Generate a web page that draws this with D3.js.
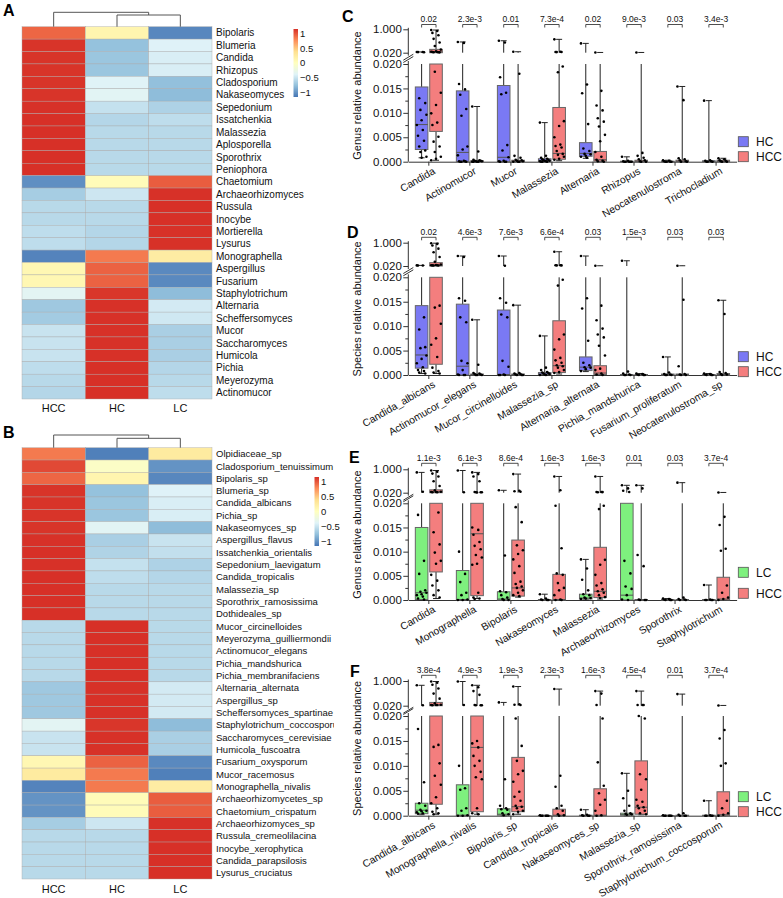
<!DOCTYPE html>
<html><head><meta charset="utf-8">
<script src="https://cdn.jsdelivr.net/npm/d3@7"></script>
<style>
body{margin:0;background:#fff}
svg{display:block;font-family:"Liberation Sans",Arial,sans-serif}
</style>
</head><body>
<svg id="chart" width="783" height="898"></svg>
<script>
// ---------------- DATA ----------------
const heatCols = ["HCC","HC","LC"];
const rowsA = ["Bipolaris","Blumeria","Candida","Rhizopus","Cladosporium","Nakaseomyces","Sepedonium","Issatchenkia","Malassezia","Aplosporella","Sporothrix","Peniophora","Chaetomium","Archaeorhizomyces","Russula","Inocybe","Mortierella","Lysurus","Monographella","Aspergillus","Fusarium","Staphylotrichum","Alternaria","Scheffersomyces","Mucor","Saccharomyces","Humicola","Pichia","Meyerozyma","Actinomucor"];
const hccA = [0.93,1.14,1.14,1.14,1.14,1.14,1.15,1.155,1.155,1.155,1.155,1.155,-1.02,-0.67,-0.58,-0.58,-0.55,-0.55,-1.08,0.10,0.10,-0.35,-0.70,-0.68,-0.50,-0.50,-0.50,-0.55,-0.58,-0.60];
const hcA  = [0.13,-0.75,-0.72,-0.72,-0.38,-0.36,-0.52,-0.60,-0.58,-0.58,-0.58,-0.58,0.05,-0.48,-0.58,-0.58,-0.60,-0.60,0.85,0.95,0.95,1.13,1.15,1.15,1.15,1.15,1.15,1.155,1.155,1.155];
const lcA  = [-1.06,-0.39,-0.42,-0.42,-0.76,-0.78,-0.63,-0.55,-0.58,-0.58,-0.58,-0.58,0.97,1.15,1.155,1.155,1.15,1.15,0.23,-1.05,-1.05,-0.78,-0.45,-0.47,-0.65,-0.65,-0.65,-0.60,-0.58,-0.55];

const rowsB = ["Olpidiaceae_sp","Cladosporium_tenuissimum","Bipolaris_sp","Blumeria_sp","Candida_albicans","Pichia_sp","Nakaseomyces_sp","Aspergillus_flavus","Issatchenkia_orientalis","Sepedonium_laevigatum","Candida_tropicalis","Malassezia_sp","Sporothrix_ramosissima","Dothideales_sp","Mucor_circinelloides","Meyerozyma_guilliermondii","Actinomucor_elegans","Pichia_mandshurica","Pichia_membranifaciens","Alternaria_alternata","Aspergillus_sp","Scheffersomyces_spartinae","Staphylotrichum_coccosporum","Saccharomyces_cerevisiae","Humicola_fuscoatra","Fusarium_oxysporum","Mucor_racemosus","Monographella_nivalis","Archaeorhizomycetes_sp","Chaetomium_crispatum","Archaeorhizomyces_sp","Russula_cremeolilacina","Inocybe_xerophytica","Candida_parapsilosis","Lysurus_cruciatus"];
const hccB = [0.85,1.05,0.93,1.14,1.14,1.14,1.14,1.15,1.155,1.15,1.155,1.155,1.155,1.155,-0.58,-0.58,-0.58,-0.58,-0.58,-0.70,-0.70,-0.70,-0.35,-0.50,-0.50,0.10,0.25,-1.08,-1.0,-1.0,-0.67,-0.58,-0.58,-0.58,-0.58];
const hcB  = [-1.10,-0.05,0.13,-0.75,-0.72,-0.72,-0.36,-0.65,-0.62,-0.52,-0.55,-0.58,-0.58,-0.58,1.155,1.155,1.155,1.155,1.155,1.15,1.15,1.15,1.13,1.15,1.15,0.95,0.85,0.85,0.05,0.05,-0.48,-0.58,-0.58,-0.58,-0.58];
const lcB  = [0.25,-1.0,-1.06,-0.39,-0.42,-0.42,-0.78,-0.50,-0.53,-0.63,-0.60,-0.58,-0.58,-0.58,-0.58,-0.58,-0.58,-0.58,-0.58,-0.45,-0.45,-0.45,-0.78,-0.65,-0.65,-1.05,-1.10,0.23,0.97,0.97,1.15,1.155,1.155,1.155,1.155];
const legendTicks = [1,0.5,0,-0.5,-1];

// Panel C (genus, HC vs HCC)  box = [min,q1,median,q3,max]
const cCats = ["Candida","Actinomucor","Mucor","Malassezia","Alternaria","Rhizopus","Neocatenulostroma","Trichocladium"];
const cP = ["0.02","2.3e-3","0.01","7.3e-4","0.02","9.0e-3","0.03","3.4e-3"];
const cHCbox = [[0.0008,0.0025,0.0076,0.0153,0.05],[0,0,0.0019,0.0145,0.47],[0,0,0.0009,0.0156,0.52],[0,0.0001,0.0002,0.0006,0.0080],[0.0007,0.0011,0.0017,0.0039,0.41],[0,0,0,0.0001,0.0010],[0,0,0,0.0001,0.0003],[0,0,0,0.0002,0.0125]];
const cHCCbox = [[0.0003,0.0062,0.06,0.16,0.97],[0,0,0.0001,0.0002,0.0113],[0,0,0.0001,0.0003,0.06],[0.0002,0.0005,0.0017,0.0111,0.58],[0,0.0001,0.0004,0.0021,0.03],[0,0,0.0001,0.0003,0.03],[0,0,0.0001,0.0003,0.0154],[0,0,0.0001,0.0003,0.0007]];
const cHCpts = [[0.05,0.05,0.045,0.04,0.013,0.012,0.0106,0.0096,0.0085,0.0075,0.0065,0.0053,0.0043,0.0031,0.0023,0.0020,0.0010,0.0008],[0.47,0.43,0.0159,0.0148,0.0137,0.0108,0.0094,0.0031,0.0025,0.0013,0.0002,0.0001,0.0001,0,0,0],[0.52,0.45,0.0173,0.0141,0.0138,0.0034,0.0023,0.0009,0.0002,0.0001,0,0,0],[0.008,0.0012,0.0008,0.0006,0.0005,0.0004,0.0003,0.0002,0.0002,0.0001,0.0001,0,0,0],[0.41,0.0158,0.0140,0.0077,0.0027,0.0022,0.0016,0.0015,0.0012,0.0010,0.0008],[0.001,0.0002,0.0001,0,0,0,0,0],[0.0003,0.0002,0.0001,0,0,0,0],[0.0125,0.0003,0.0002,0.0001,0,0,0]];
const cHCCpts = [[0.97,0.93,0.85,0.75,0.6,0.45,0.3,0.15,0.08,0.06,0.05,0.05,0.04,0.04,0.035,0.0184,0.0141,0.0116,0.0099,0.0080,0.0075,0.0051,0.0041,0.0031,0.0020,0.0010,0.0006,0.0003],[0.0113,0.0021,0.0004,0.0003,0.0002,0.0002,0.0001,0.0001,0,0,0,0],[0.06,0.018,0.0012,0.0008,0.0004,0.0003,0.0002,0.0001,0,0,0],[0.58,0.06,0.05,0.05,0.045,0.0195,0.0183,0.0083,0.0073,0.0050,0.0035,0.0032,0.0029,0.0022,0.0016,0.0014,0.0010,0.0006,0.0004],[0.03,0.0145,0.0115,0.0105,0.0089,0.0082,0.0072,0.0055,0.0042,0.0020,0.0010,0.0004,0.0002,0.0001,0],[0.03,0.0018,0.0012,0.0008,0.0005,0.0003,0.0001,0,0],[0.0154,0.0126,0.0007,0.0005,0.0003,0.0001,0,0],[0.0007,0.0005,0.0003,0.0002,0.0001,0,0]];

// Panel D (species, HC vs HCC)
const dCats = ["Candida_albicans","Actinomucor_elegans","Mucor_circinelloides","Malassezia_sp","Alternaria_alternata","Pichia_mandshurica","Fusarium_proliferatum","Neocatenulostroma_sp"];
const dP = ["0.02","4.6e-3","7.6e-3","6.6e-4","0.03","1.5e-3","0.03","0.03"];
const dHCbox = [[0.0003,0.0014,0.0041,0.0142,0.045],[0,0,0.0018,0.0145,0.44],[0,0,0.0001,0.0133,0.44],[0,0.0001,0.0002,0.0005,0.0080],[0.0007,0.0009,0.0016,0.0037,0.44],[0,0,0,0.0001,0.24],[0,0,0,0.0002,0.0037],[0,0,0,0.0001,0.0003]];
const dHCCbox = [[0.0003,0.0022,0.05,0.16,0.98],[0,0,0.0001,0.0002,0.0113],[0,0,0.0001,0.0002,0.0143],[0.0002,0.0005,0.0019,0.0111,0.62],[0,0.0001,0.0004,0.0019,0.03],[0,0,0,0.0001,0.0003],[0,0,0.0001,0.0002,0.03],[0,0,0.0001,0.0003,0.0153]];
const dHCpts = [[0.045,0.04,0.04,0.0118,0.0093,0.0057,0.0055,0.0040,0.0033,0.0024,0.0016,0.0010,0.0008,0.0005,0.0003],[0.44,0.40,0.0157,0.0152,0.0118,0.0108,0.0029,0.0024,0.0010,0.0001,0,0,0],[0.44,0.03,0.0157,0.0148,0.0124,0.0118,0.0029,0.0017,0.0001,0,0,0],[0.008,0.0015,0.0010,0.0006,0.0005,0.0004,0.0003,0.0002,0.0001,0,0],[0.44,0.0157,0.0136,0.0070,0.0025,0.0020,0.0016,0.0015,0.0012,0.0008],[0.24,0.0007,0.0003,0.0001,0,0,0],[0.0037,0.0005,0.0002,0.0001,0,0,0],[0.0003,0.0002,0.0001,0,0,0]];
const dHCCpts = [[0.98,0.95,0.88,0.75,0.6,0.4,0.2,0.08,0.06,0.05,0.05,0.045,0.04,0.04,0.0142,0.0138,0.0105,0.0075,0.0062,0.0037,0.0015,0.0008,0.0005,0.0003],[0.0113,0.0021,0.0004,0.0003,0.0002,0.0001,0,0,0],[0.0143,0.0004,0.0003,0.0002,0.0001,0,0,0],[0.62,0.05,0.05,0.045,0.045,0.0195,0.0183,0.0083,0.0073,0.0052,0.0035,0.0030,0.0025,0.0020,0.0018,0.0015,0.0010,0.0006,0.0004],[0.03,0.0142,0.0112,0.0095,0.0083,0.0077,0.0060,0.0040,0.0013,0.0010,0.0003,0.0001,0],[0.0003,0.0002,0.0001,0,0,0],[0.03,0.0154,0.0018,0.0002,0.0001,0,0],[0.0153,0.0125,0.0006,0.0004,0.0002,0.0001,0]];

// Panel E (genus, LC vs HCC)
const eCats = ["Candida","Monographella","Bipolaris","Nakaseomyces","Malassezia","Archaeorhizomyces","Sporothrix","Staphylotrichum"];
const eP = ["1.1e-3","6.1e-3","8.6e-4","1.6e-3","1.6e-3","0.01","0.03","3.7e-4"];
const eLCbox = [[0,0.0001,0.0015,0.0150,0.87],[0,0,0.0001,0.0061,0.95],[0,0,0.0002,0.0017,0.12],[0,0,0,0.0001,0.0012],[0,0.0002,0.0004,0.0012,0.0084],[0,0,0.0010,0.02,0.33],[0,0,0,0.0001,0.0003],[0,0,0,0.0001,0.0031]];
const eHCCbox = [[0.0003,0.0058,0.06,0.14,0.95],[0.0003,0.0009,0.0137,0.02,0.87],[0.0006,0.0008,0.0025,0.0124,0.8],[0,0,0.0001,0.0053,0.7],[0.0002,0.0005,0.0018,0.0109,0.7],[0,0,0,0.0001,0.33],[0,0,0,0.0001,0.44],[0,0,0.0002,0.0047,0.03]];
const eLCpts = [[0.87,0.06,0.0176,0.0081,0.0054,0.0020,0.0017,0.0015,0.0012,0.0010,0.0007,0.0003,0.0001],[0.95,0.04,0.0100,0.0054,0.0037,0.0015,0.0010,0.0001,0,0],[0.12,0.0092,0.0018,0.0016,0.0010,0.0005,0.0002,0,0],[0.0012,0.0003,0.0001,0,0,0],[0.0084,0.0065,0.0042,0.0020,0.0012,0.0010,0.0005,0.0004,0.0003,0.0002],[0.33,0.2,0.1,0.05,0.0081,0.0055,0.0028,0.0023,0.0010,0.0001,0],[0.0003,0.0002,0.0001,0,0,0],[0.0031,0.0001,0,0,0,0]];
const eHCCpts = [[0.95,0.9,0.82,0.7,0.5,0.3,0.12,0.06,0.05,0.05,0.04,0.04,0.0181,0.0140,0.0115,0.0098,0.0081,0.0075,0.0052,0.0040,0.0030,0.0020,0.0010,0.0005],[0.87,0.8,0.7,0.5,0.05,0.04,0.04,0.04,0.03,0.0150,0.0145,0.0135,0.0120,0.0112,0.0105,0.0093,0.0088,0.0075,0.0073,0.0015,0.0005,0.0003,0.0002],[0.8,0.1,0.08,0.06,0.0192,0.0161,0.0113,0.0103,0.0095,0.0084,0.0070,0.0056,0.0038,0.0033,0.0028,0.0025,0.0020,0.0015,0.0010,0.0008],[0.7,0.12,0.0195,0.0107,0.0055,0.0052,0.0035,0.0025,0.0020,0.0010,0.0001,0,0],[0.7,0.05,0.05,0.045,0.04,0.0195,0.0188,0.0083,0.0073,0.0052,0.0035,0.0030,0.0022,0.0018,0.0015,0.0010,0.0006,0.0004],[0.33,0.2,0.0093,0.0070,0.0001,0,0,0],[0.44,0.0005,0.0002,0.0001,0,0],[0.03,0.0172,0.0155,0.0106,0.0102,0.0030,0.0015,0.0005,0.0002,0]];

// Panel F (species, LC vs HCC)
const fCats = ["Candida_albicans","Monographella_nivalis","Bipolaris_sp","Candida_tropicalis","Nakaseomyces_sp","Malassezia_sp","Sporothrix_ramosissima","Staphylotrichum_coccosporum"];
const fP = ["3.8e-4","4.9e-3","1.9e-3","2.3e-3","1.6e-3","4.5e-4","0.01","3.7e-4"];
const fLCbox = [[0.0002,0.0004,0.0011,0.0025,0.83],[0,0,0.0001,0.0062,0.98],[0,0.0001,0.0003,0.0014,0.15],[0,0,0,0,0.0001],[0,0,0,0.0001,0.0012],[0,0.0001,0.0002,0.0005,0.0085],[0,0,0,0,0.0001],[0,0,0,0.0001,0.0030]];
const fHCCbox = [[0.0003,0.0023,0.05,0.15,0.98],[0.0003,0.0008,0.0137,0.02,0.83],[0.0003,0.0008,0.0018,0.0117,0.78],[0,0,0.0001,0.0013,0.68],[0,0,0.0001,0.0054,0.6],[0.0002,0.0003,0.0017,0.0110,0.6],[0,0,0,0.0001,0.48],[0,0,0.0002,0.0048,0.03]];
const fLCpts = [[0.83,0.04,0.0174,0.0067,0.0025,0.0020,0.0012,0.0010,0.0009,0.0007,0.0005,0.0004],[0.98,0.05,0.0100,0.0055,0.0052,0.0015,0.0010,0.0001,0,0],[0.15,0.0073,0.0020,0.0015,0.0013,0.0012,0.0005,0.0003,0.0001],[0.0001,0,0,0,0,0],[0.0012,0.0002,0.0001,0,0,0],[0.0085,0.0050,0.0035,0.0020,0.0010,0.0005,0.0004,0.0003,0.0002],[0.0001,0,0,0,0,0],[0.0030,0.0001,0,0,0,0]];
const fHCCpts = [[0.98,0.93,0.85,0.7,0.5,0.3,0.12,0.06,0.05,0.05,0.045,0.04,0.0142,0.0138,0.0105,0.0080,0.0062,0.0037,0.0025,0.0015,0.0008,0.0005,0.0003],[0.83,0.75,0.6,0.45,0.05,0.04,0.04,0.04,0.0150,0.0145,0.0137,0.0120,0.0110,0.0100,0.0088,0.0077,0.0073,0.0015,0.0005,0.0003],[0.78,0.08,0.06,0.05,0.0195,0.0140,0.0110,0.0090,0.0083,0.0068,0.0048,0.0038,0.0030,0.0020,0.0018,0.0015,0.0010,0.0008,0.0003],[0.68,0.0080,0.0058,0.0020,0.0015,0.0010,0.0003,0.0001,0],[0.6,0.5,0.05,0.0195,0.0107,0.0060,0.0045,0.0032,0.0022,0.0010,0.0001,0],[0.6,0.05,0.05,0.045,0.0200,0.0195,0.0083,0.0073,0.0052,0.0032,0.0028,0.0020,0.0017,0.0015,0.0010,0.0005,0.0003],[0.48,0.0005,0.0002,0,0,0],[0.03,0.0172,0.0155,0.0105,0.0100,0.0030,0.0015,0.0005,0.0002,0]];

const lowTicks = [0,0.005,0.01,0.015,0.02];
const lowMinor = [0.0025,0.0075,0.0125,0.0175];
const highTicks = [0.02,1];

// ---------------- DRAW ----------------
const svg = d3.select("#chart");
const palette = ["#4575B4","#91BFDB","#E0F3F8","#FFFFBF","#FEE090","#FC8D59","#D73027"];
const zmax = 1.155;
const color = d3.scaleLinear().domain(d3.range(7).map(i => -zmax + i*2*zmax/6)).range(palette).clamp(true);
const defs = svg.append("defs");
const grad = defs.append("linearGradient").attr("id","cbar").attr("x1",0).attr("y1",1).attr("x2",0).attr("y2",0);
palette.forEach((c,i)=>grad.append("stop").attr("offset",i/6).attr("stop-color",c));
defs.append("clipPath").attr("id","clipB").append("rect").attr("x",0).attr("y",430).attr("width",334).attr("height",468);

function heatmap(o){
  const g = svg.append("g");
  const x = d3.scaleBand().domain(heatCols).range([22,212]);
  const y = d3.scaleBand().domain(o.rows).range([o.top,o.bottom]);
  const vals = {HCC:o.hcc, HC:o.hc, LC:o.lc};
  o.rows.forEach((r,i)=>{
    heatCols.forEach(c=>{
      g.append("rect").attr("x",x(c)).attr("y",y(r)).attr("width",x.bandwidth()).attr("height",y.bandwidth())
        .attr("fill",color(vals[c][i])).attr("stroke","#a9a9a9").attr("stroke-width",0.4);
    });
  });
  const lab = g.append("g").attr("clip-path", o.clip ? "url(#clipB)" : null);
  lab.selectAll("text").data(o.rows).join("text")
    .attr("x",216).attr("y",d=>y(d)+y.bandwidth()/2).attr("dy","0.35em")
    .attr("font-size",o.fs).attr("fill","#111").text(d=>d);
  g.selectAll(".cl").data(heatCols).join("text").attr("class","cl")
    .attr("x",d=>x(d)+x.bandwidth()/2).attr("y",o.colY).attr("text-anchor","middle")
    .attr("font-size",11).attr("fill","#111").text(d=>d);
  const cx = c => x(c)+x.bandwidth()/2;
  const mid = (cx("HC")+cx("LC"))/2;
  const dg = g.append("g").attr("stroke","#555").attr("stroke-width",1).attr("fill","none");
  dg.append("path").attr("d",`M${cx("HCC")},${o.top}V${o.d1}H${mid}V${o.d2}`);
  dg.append("path").attr("d",`M${cx("HC")},${o.top}V${o.d2}H${cx("LC")}V${o.top}`);
  g.append("rect").attr("x",o.cbX).attr("y",o.cbTop).attr("width",4.5).attr("height",o.cbBot-o.cbTop).attr("fill","url(#cbar)");
  const cy = d3.scaleLinear().domain([-zmax,zmax]).range([o.cbBot,o.cbTop]);
  g.selectAll(".cb").data(legendTicks).join("text").attr("class","cb")
    .attr("x",o.cbX+6.5).attr("y",d=>cy(d)).attr("dy","0.35em").attr("font-size",9.5).attr("fill","#111")
    .text(d=>d3.format("")(d).replace("-","\u2212"));
  svg.append("text").attr("x",3).attr("y",o.letterY).attr("font-size",16).attr("font-weight","bold").text(o.letter);
}

heatmap({rows:rowsA,hcc:hccA,hc:hcA,lc:lcA,top:26.7,bottom:399,fs:10,colY:411.7,d1:12.3,d2:15,cbX:293.5,cbTop:29,cbBot:97,letter:"A",letterY:16});
heatmap({rows:rowsB,hcc:hccB,hc:hcB,lc:lcB,top:447.7,bottom:879,fs:9.5,colY:892.7,d1:435,d2:438.3,cbX:314.5,cbTop:477,cbBot:546,letter:"B",letterY:438,clip:true});

const COL = {HC:"#7a79f4", HCC:"#f47e7e", LC:"#7ef07e"};

function boxPanel(o){
  const g = svg.append("g");
  const L = o.L;
  const axX = 408.3;
  const x = d3.scaleBand().domain(o.cats).range([axX,736.6]);
  const lo = d3.scaleLinear().domain([0,0.02]).range([L.zero,L.low]);
  const hi = d3.scaleLinear().domain([0.02,1]).range([L.up,L.top]);
  const y = v => v<=0.02 ? lo(v) : hi(v);
  const bw = 12.6, off = 7.2;
  const seriesList = [{name:o.nA,box:o.boxA,pts:o.ptsA,s:-1},{name:"HCC",box:o.boxB,pts:o.ptsB,s:1}];

  const yl = g.append("g").attr("transform",`translate(${axX},0)`)
    .call(d3.axisLeft(lo).tickValues(lowTicks).tickFormat(d3.format(".3f")).tickSize(5).tickSizeOuter(0));
  const yh = g.append("g").attr("transform",`translate(${axX},0)`)
    .call(d3.axisLeft(hi).tickValues(highTicks).tickFormat(d3.format(".3f")).tickSize(5).tickSizeOuter(0));
  const ym = g.append("g").attr("transform",`translate(${axX},0)`)
    .call(d3.axisLeft(lo).tickValues(lowMinor).tickFormat("").tickSize(3).tickSizeOuter(0));
  [yl,yh,ym].forEach(a=>{ a.select(".domain").remove(); a.selectAll(".tick line").attr("stroke","#333");
    a.selectAll("text").attr("font-size",11.5).attr("fill","#111").attr("x",-6.5); });
  g.append("line").attr("x1",axX).attr("x2",axX).attr("y1",L.top-1.5).attr("y2",L.up+3).attr("stroke","#333");
  g.append("line").attr("x1",axX).attr("x2",axX).attr("y1",L.low-3).attr("y2",L.zero).attr("stroke","#333");
  [L.up+4.5, L.low-4.5].forEach(yy=>{
    g.append("line").attr("x1",axX-5).attr("x2",axX+5).attr("y1",yy+3).attr("y2",yy-3).attr("stroke","#333");
  });
  const xa = g.append("g").attr("transform",`translate(0,${L.zero})`)
    .call(d3.axisBottom(x).tickSize(4).tickSizeOuter(0));
  xa.select(".domain").attr("stroke","#333");
  xa.selectAll(".tick line").attr("stroke","#333");
  xa.selectAll("text").attr("y",0).attr("x",0).attr("dy","0.6em")
    .attr("transform","translate(4,6) rotate(-30)").style("text-anchor","end")
    .attr("font-size",10.3).attr("fill","#111");

  const ym2 = (L.top+L.zero)/2;
  g.append("text").attr("transform",`translate(357.5,${ym2}) rotate(-90)`).attr("text-anchor","middle")
    .attr("dy","0.35em").attr("font-size",11).attr("fill","#111").text(o.title);
  g.append("text").attr("x",o.letterX).attr("y",o.letterY).attr("font-size",16).attr("font-weight","bold").text(o.letter);

  o.cats.forEach((c,i)=>{
    const gc = x(c)+x.bandwidth()/2;
    seriesList.forEach(sr=>{
      const cx = gc + sr.s*off;
      const [mn,q1,md,q3,mx] = sr.box[i];
      const col = COL[sr.name];
      const bg = g.append("g");
      const seg = (v1,v2)=>{
        if(v2<=0.02) bg.append("line").attr("x1",cx).attr("x2",cx).attr("y1",lo(v1)).attr("y2",lo(v2));
        else if(v1>=0.02) bg.append("line").attr("x1",cx).attr("x2",cx).attr("y1",hi(v1)).attr("y2",hi(v2));
        else { bg.append("line").attr("x1",cx).attr("x2",cx).attr("y1",lo(v1)).attr("y2",L.low);
               bg.append("line").attr("x1",cx).attr("x2",cx).attr("y1",L.up).attr("y2",hi(v2)); }
      };
      seg(q3,mx); seg(mn,q1);
      [mn,mx].forEach(v=>bg.append("line").attr("x1",cx-3).attr("x2",cx+3).attr("y1",y(v)).attr("y2",y(v)));
      bg.selectAll("line").attr("stroke","#222").attr("stroke-width",1);
      const rect = (y1,y2)=>g.append("rect").attr("x",cx-bw/2).attr("y",Math.min(y1,y2)).attr("width",bw)
          .attr("height",Math.max(0.01,Math.abs(y2-y1))).attr("fill",col).attr("stroke","#666").attr("stroke-width",1);
      if(q3<=0.02) rect(lo(q1),lo(q3));
      else { rect(lo(q1),L.low); rect(L.up,hi(q3)); }
      g.append("line").attr("x1",cx-bw/2).attr("x2",cx+bw/2).attr("y1",y(md)).attr("y2",y(md)).attr("stroke","#555").attr("stroke-width",1);
      sr.pts[i].forEach((v,k)=>{
        const jt = ((((k*5)%9)/8) - 0.5) * (bw-3);
        g.append("circle").attr("cx",cx+jt).attr("cy",y(v)).attr("r",1.3).attr("fill","#000");
      });
    });
    const x1 = gc-off, x2 = gc+off;
    g.append("path").attr("d",`M${x1},${L.brLine+3}V${L.brLine}H${x2}V${L.brLine+3}`)
      .attr("fill","none").attr("stroke","#222").attr("stroke-width",0.8);
    g.append("text").attr("x",gc).attr("y",L.brText).attr("text-anchor","middle").attr("font-size",8.5).attr("fill","#111").text(o.p[i]);
  });

  [o.nA,"HCC"].forEach((nm,k)=>{
    g.append("rect").attr("x",738.3).attr("y",L.leg[k]).attr("width",10).attr("height",10)
      .attr("fill",COL[nm]).attr("stroke","#555").attr("stroke-width",0.8);
    g.append("text").attr("x",756).attr("y",L.leg[k]+9.5).attr("font-size",12).attr("fill","#111").text(nm);
  });
}

boxPanel({cats:cCats,p:cP,boxA:cHCbox,boxB:cHCCbox,ptsA:cHCpts,ptsB:cHCCpts,nA:"HC",title:"Genus relative abundance",letter:"C",letterX:342,letterY:21.7,
  L:{top:29.3,up:52.7,low:64,zero:161.7,brText:21.5,brLine:24.5,leg:[136.7,151.7]}});
boxPanel({cats:dCats,p:dP,boxA:dHCbox,boxB:dHCCbox,ptsA:dHCpts,ptsB:dHCCpts,nA:"HC",title:"Species relative abundance",letter:"D",letterX:347,letterY:238,
  L:{top:242.7,up:266,low:277.3,zero:375,brText:234.5,brLine:237.3,leg:[351.7,366.7]}});
boxPanel({cats:eCats,p:eP,boxA:eLCbox,boxB:eHCCbox,ptsA:eLCpts,ptsB:eHCCpts,nA:"LC",title:"Genus relative abundance",letter:"E",letterX:349,letterY:463,
  L:{top:469.3,up:492.7,low:503.3,zero:600,brText:460.5,brLine:463.3,leg:[567.3,588.3]}});
boxPanel({cats:fCats,p:fP,boxA:fLCbox,boxB:fHCCbox,ptsA:fLCpts,ptsB:fHCCpts,nA:"LC",title:"Species relative abundance",letter:"F",letterX:350,letterY:676.7,
  L:{top:681,up:705.7,low:716,zero:815.7,brText:672.5,brLine:675.3,leg:[791.7,806.7]}});
</script>
</body></html>
